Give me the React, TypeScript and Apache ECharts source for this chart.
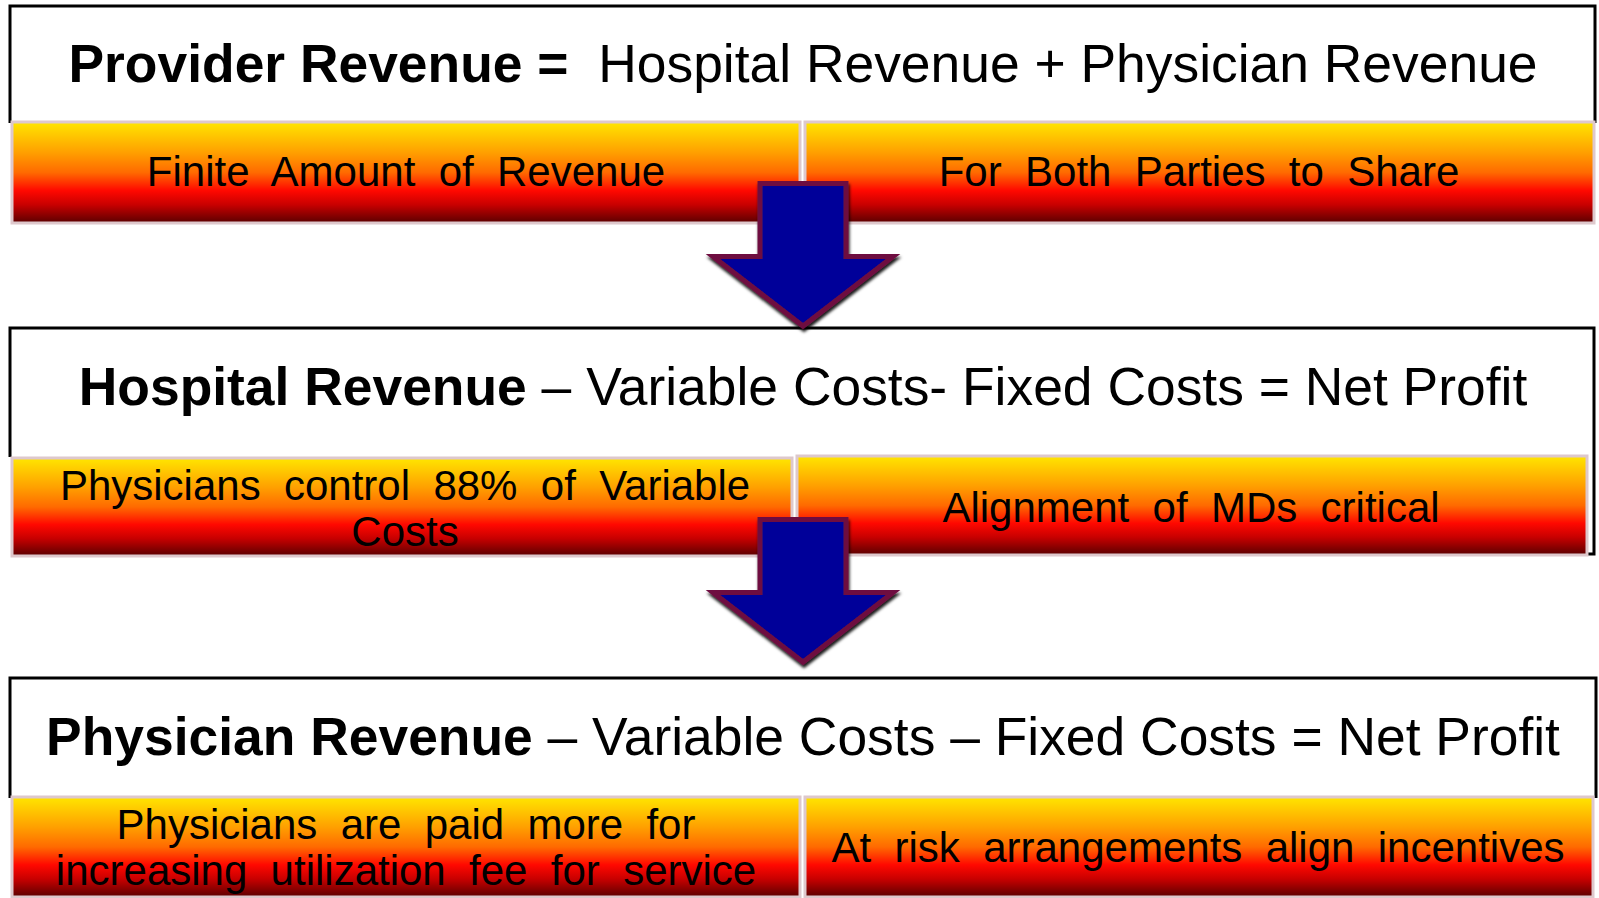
import React, { useEffect, useRef } from 'react';
import * as echarts from 'echarts';

// ---- content ----
const titleBold = ['Provider Revenue =', 'Hospital Revenue', 'Physician Revenue'];
const titleRest = [
  '  Hospital Revenue + Physician Revenue',
  ' – Variable Costs- Fixed Costs = Net Profit',
  ' – Variable Costs – Fixed Costs = Net Profit',
];
const leftLabels = [
  'Finite Amount of Revenue',
  'Physicians control 88% of Variable\nCosts',
  'Physicians are paid more for\nincreasing utilization fee for service',
];
const rightLabels = [
  'For Both Parties to Share',
  'Alignment of MDs critical',
  'At risk arrangements align incentives',
];

// ---- layout (pixels) ----
const boxFills = [
  [10, 6, 1585, 130],
  [10, 328, 1584, 226],
  [10, 678, 1586, 130],
];
const boxOutlines = [
  [[10, 123], [10, 6], [1595, 6], [1595, 123]],
  [[10, 457], [10, 328], [1594, 328], [1594, 554], [1586, 554]],
  [[10, 798], [10, 678], [1596, 678], [1596, 798]],
];
const leftBars = [
  [12, 122, 788, 101],
  [12, 458, 780, 98],
  [12, 797, 788, 100],
];
const rightBars = [
  [805, 122, 789, 101],
  [797, 456, 790, 99],
  [805, 797, 788, 100],
];
const titleYs = [63, 386, 736];
const leftTextPos = [[406, 171], [405, 508], [406, 847]];
const rightTextPos = [[1199, 171], [1191, 507], [1198, 847]];
const arrowTops = [181, 517];

const FONT = "'Liberation Sans', Arial, Helvetica, sans-serif";
const TITLE_SIZE = 53.4;

function gradient() {
  return new echarts.graphic.LinearGradient(0, 0, 0, 1, [
    { offset: 0, color: '#FFE600' },
    { offset: 0.3, color: '#FFA000' },
    { offset: 0.5, color: '#FF6A00' },
    { offset: 0.68, color: '#FF0800' },
    { offset: 0.82, color: '#C80000' },
    { offset: 1, color: '#5A0000' },
  ]);
}

export default function App() {
  const ref = useRef<HTMLDivElement>(null);
  useEffect(() => {
    if (!ref.current) return;
    const chart = echarts.init(ref.current, null, { renderer: 'svg' });
    const elements: any[] = [];

    boxFills.forEach((b, i) => {
      elements.push({
        type: 'rect',
        shape: { x: b[0], y: b[1], width: b[2], height: b[3] },
        style: { fill: '#ffffff' },
        z: 1,
      });
      elements.push({
        type: 'polyline',
        shape: { points: boxOutlines[i] },
        style: { fill: null, stroke: '#000000', lineWidth: 3, lineJoin: 'miter', lineCap: 'butt' },
        z: 1,
      });
      elements.push({
        type: 'text',
        x: 803,
        y: titleYs[i],
        style: {
          text: '{b|' + titleBold[i] + '}{r|' + titleRest[i] + '}',
          align: 'center',
          verticalAlign: 'middle',
          fill: '#000',
          fontFamily: FONT,
          fontSize: TITLE_SIZE,
          rich: {
            b: { fontFamily: FONT, fontSize: TITLE_SIZE, fontWeight: 'bold', fill: '#000' },
            r: { fontFamily: FONT, fontSize: TITLE_SIZE, fill: '#000' },
          },
        },
        z: 5,
      });
    });

    [leftBars, rightBars].forEach((bars) => {
      bars.forEach((b) => {
        elements.push({
          type: 'rect',
          shape: { x: b[0], y: b[1], width: b[2], height: b[3] },
          style: { fill: gradient(), stroke: '#DEC8CC', lineWidth: 3 },
          z: 2,
        });
      });
    });

    const addLabel = (txt: string, pos: number[]) => {
      elements.push({
        type: 'text',
        x: pos[0],
        y: pos[1],
        style: {
          text: txt.replace(/ /g, '  '),
          align: 'center',
          verticalAlign: 'middle',
          fill: '#000',
          fontFamily: FONT,
          fontSize: 42,
          lineHeight: 46,
        },
        z: 6,
      });
    };
    leftLabels.forEach((t, i) => addLabel(t, leftTextPos[i]));
    rightLabels.forEach((t, i) => addLabel(t, rightTextPos[i]));

    arrowTops.forEach((t) => {
      const top = t + 2.5;
      const j = t + 75.5;
      const tip = t + 145;
      elements.push({
        type: 'polygon',
        shape: {
          points: [
            [760, top], [846, top], [846, j], [893, j], [803, tip], [713, j], [760, j],
          ],
        },
        style: {
          fill: '#000099',
          stroke: '#6E1040',
          lineWidth: 5,
          lineJoin: 'miter',
          shadowColor: 'rgba(0,0,0,0.9)',
          shadowBlur: 3,
          shadowOffsetX: 1,
          shadowOffsetY: 3,
        },
        z: 10,
      });
    });

    chart.setOption({
      animation: false,
      backgroundColor: '#ffffff',
      graphic: { elements },
    });
    return () => chart.dispose();
  }, []);
  return (
    <div
      ref={ref}
      style={{ position: 'fixed', left: 0, top: 0, width: 1599, height: 898, background: '#fff' }}
    />
  );
}
